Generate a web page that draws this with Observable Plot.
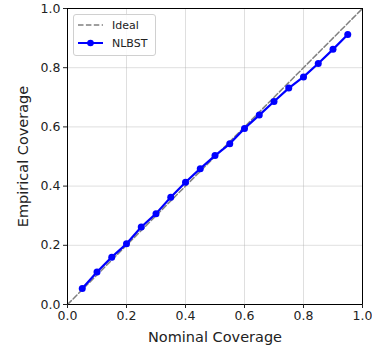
<!DOCTYPE html>
<html><head><meta charset="utf-8">
<script src="https://cdn.jsdelivr.net/npm/d3@7"></script>
<script src="https://cdn.jsdelivr.net/npm/@observablehq/plot@0.6"></script>
<style>
body{margin:0;background:#fff;font-family:"DejaVu Sans",sans-serif;}
#wrap{position:relative;width:372px;height:349px;}
#legend{position:absolute;left:73px;top:14px;width:81px;height:40px;border:1px solid #d0d0d0;border-radius:3px;background:rgba(255,255,255,0.85);font-size:11px;color:#222;}
#legend .row{position:absolute;left:4px;height:14px;display:flex;align-items:center;}
#legend svg{margin-right:9px;}
</style></head>
<body><div id="wrap"><div id="legend">
<div class="row" style="top:3px"><svg width="25" height="8"><line x1="0" y1="4" x2="25" y2="4" stroke="#808080" stroke-width="1.5" stroke-dasharray="5.5,2.4"/></svg>Ideal</div>
<div class="row" style="top:21px"><svg width="25" height="8"><line x1="0" y1="4" x2="25" y2="4" stroke="#0000ff" stroke-width="2"/><circle cx="12.5" cy="4" r="3.3" fill="#0000ff"/></svg>NLBST</div>
</div></div>
<script>
const nominal = [0.05,0.10,0.15,0.20,0.25,0.30,0.35,0.40,0.45,0.50,0.55,0.60,0.65,0.70,0.75,0.80,0.85,0.90,0.95];
const empirical = [0.054,0.110,0.160,0.205,0.262,0.307,0.362,0.413,0.459,0.503,0.543,0.595,0.640,0.686,0.731,0.769,0.814,0.862,0.912];
const idealX = [0,1];
const ticks = [0,0.2,0.4,0.6,0.8,1.0];

const data = nominal.map((n,i)=>({n, e: empirical[i]}));
const ideal = idealX.map(v=>({x:v,y:v}));

const chart = Plot.plot({
  width: 372, height: 349,
  marginLeft: 67, marginTop: 8, marginRight: 10, marginBottom: 45,
  style: {fontFamily: "DejaVu Sans, sans-serif", fontSize: "12.5px", color: "#222"},
  x: {domain: [0,1]},
  y: {domain: [0,1]},
  marks: [
    Plot.gridX(ticks, {stroke: "#b0b0b0", strokeOpacity: 0.4}),
    Plot.gridY(ticks, {stroke: "#b0b0b0", strokeOpacity: 0.4}),
    Plot.line(ideal, {x: "x", y: "y", stroke: "#808080", strokeWidth: 1.5, strokeDasharray: "5.5,2.4"}),
    Plot.line(data, {x: "n", y: "e", stroke: "#0000ff", strokeWidth: 2.2}),
    Plot.dot(data, {x: "n", y: "e", fill: "#0000ff", r: 3.5}),
    Plot.frame({stroke: "#000", strokeWidth: 1}),
    Plot.axisX(ticks, {tickSize: 4, tickPadding: 3, tickFormat: d3.format(".1f"), fontSize: 12.5, label: "Nominal Coverage", labelAnchor: "center", labelArrow: "none", labelOffset: 37}),
    Plot.axisY(ticks, {tickSize: 4, tickPadding: 3, tickFormat: d3.format(".1f"), fontSize: 12.5, label: "Empirical Coverage", labelAnchor: "center", labelArrow: "none", labelOffset: 50})
  ]
});
chart.querySelectorAll('text').forEach(t=>{
  if (t.textContent === "Nominal Coverage" || t.textContent === "Empirical Coverage") {
    t.setAttribute("font-size", "14.5"); t.style.fontSize = "14.5px";
    t.closest("g") && t.closest("g").setAttribute("font-size", "14.5");
  }
});
document.getElementById("wrap").prepend(chart);
</script></body></html>
